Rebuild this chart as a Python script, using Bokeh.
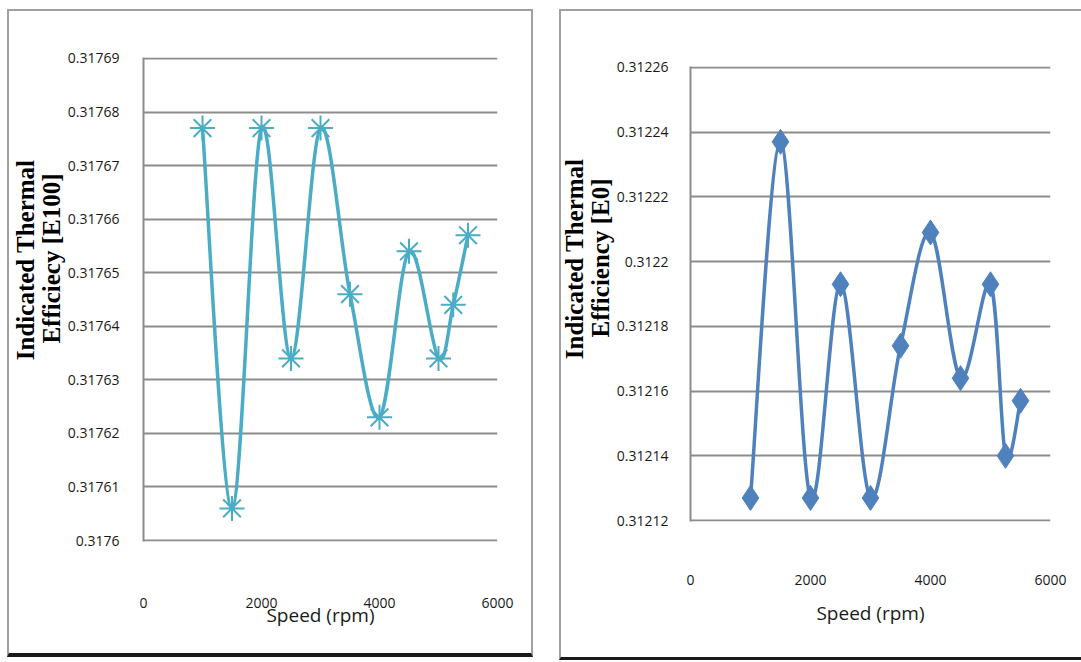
from bokeh.plotting import figure
from bokeh.layouts import row
from bokeh.models import (ColumnDataSource, FixedTicker, PrintfTickFormatter, Title, Range1d)
from bokeh.embed import file_html
from bokeh.resources import INLINE

# ---------------- data ----------------
speed_rpm = [1000, 1500, 2000, 2500, 3000, 3500, 4000, 4500, 5000, 5250, 5500]
eff_e100 = [0.317677, 0.317606, 0.317677, 0.317634, 0.317677, 0.317646,
            0.317623, 0.317654, 0.317634, 0.317644, 0.317657]
eff_e0 = [0.312127, 0.312237, 0.312127, 0.312193, 0.312127, 0.312174,
          0.312209, 0.312164, 0.312193, 0.312140, 0.312157]
x_ticks = [0, 2000, 4000, 6000]
y_ticks_e100 = [0.3176, 0.31761, 0.31762, 0.31763, 0.31764, 0.31765,
                0.31766, 0.31767, 0.31768, 0.31769]
y_ticks_e0 = [0.31212, 0.31214, 0.31216, 0.31218, 0.3122, 0.31222,
              0.31224, 0.31226]
x_title = "Speed (rpm)"
y_title_e100 = ["Indicated Thermal", "Efficiecy [E100]"]
y_title_e0 = ["Indicated Thermal", "Efficiency [E0]"]

GRID = "#8c8c8c"
TICK_FONT = "Open Sans"


def smooth_segments(xs, ys):
    """Bezier control points of a smoothed (Catmull-Rom style) line through the data."""
    n = len(xs)
    d = dict(x0=[], y0=[], x1=[], y1=[], cx0=[], cy0=[], cx1=[], cy1=[])
    for i in range(n - 1):
        ip = max(i - 1, 0)
        inx = min(i + 2, n - 1)
        d["x0"].append(xs[i]); d["y0"].append(ys[i])
        d["x1"].append(xs[i + 1]); d["y1"].append(ys[i + 1])
        d["cx0"].append(xs[i] + (xs[i + 1] - xs[ip]) / 6.0)
        d["cy0"].append(ys[i] + (ys[i + 1] - ys[ip]) / 6.0)
        d["cx1"].append(xs[i + 1] - (xs[inx] - xs[i]) / 6.0)
        d["cy1"].append(ys[i + 1] - (ys[inx] - ys[i]) / 6.0)
    return d


def make_panel(width, height, borders, ydata, yticks, title_lines, title_offsets,
               title_standoffs, color, marker, xstandoff, xtitle_standoff, margin, styles,
               ylabel_standoff):
    bl, br, bt, bb = borders
    pad = (yticks[-1] - yticks[0]) * 0.002
    p = figure(width=width, height=height, output_backend="svg", toolbar_location=None,
               x_range=Range1d(0, 6000),
               y_range=Range1d(yticks[0] - pad, yticks[-1] + pad),
               min_border_left=bl, min_border_right=br, min_border_top=bt,
               min_border_bottom=bb, frame_align=False, margin=margin, styles=styles)
    p.outline_line_color = None
    p.background_fill_color = "white"
    p.border_fill_color = "white"

    p.xgrid.visible = False
    p.ygrid.ticker = FixedTicker(ticks=yticks)
    p.ygrid.grid_line_color = GRID
    p.ygrid.grid_line_width = 2

    ya = p.yaxis[0]
    ya.ticker = FixedTicker(ticks=yticks)
    ya.formatter = PrintfTickFormatter(format="%.5g")
    ya.axis_line_color = GRID
    ya.axis_line_width = 2
    ya.major_tick_line_color = None
    ya.minor_tick_line_color = None
    ya.major_label_standoff = ylabel_standoff
    ya.major_label_text_font = TICK_FONT
    ya.major_label_text_font_size = "14px"
    ya.major_label_text_color = "#1a1a1a"

    xa = p.xaxis[0]
    xa.ticker = FixedTicker(ticks=x_ticks)
    xa.axis_line_color = None
    xa.major_tick_line_color = None
    xa.minor_tick_line_color = None
    xa.major_label_standoff = xstandoff
    xa.major_label_text_font = TICK_FONT
    xa.major_label_text_font_size = "14px"
    xa.major_label_text_color = "#1a1a1a"
    xa.axis_label = x_title
    xa.axis_label_standoff = xtitle_standoff
    xa.axis_label_text_font = TICK_FONT
    xa.axis_label_text_font_style = "normal"
    xa.axis_label_text_font_size = "19px"
    xa.axis_label_text_color = "#1a1a1a"

    src = ColumnDataSource(dict(x=speed_rpm, y=ydata))
    bz = ColumnDataSource(smooth_segments(speed_rpm, ydata))
    p.bezier(x0="x0", y0="y0", x1="x1", y1="y1", cx0="cx0", cy0="cy0", cx1="cx1",
             cy1="cy1", source=bz, line_color=color, line_width=3.5)
    if marker == "asterisk":
        p.scatter("x", "y", source=src, marker="asterisk", size=25,
                  line_color=color, line_width=2)
    else:
        p.scatter("x", "y", source=src, marker="diamond", size=25,
                  line_color=color, fill_color=color, line_width=1)

    # stacked outward from the axis: second line first, then first line
    for text, off, so in zip(reversed(title_lines), reversed(title_offsets), title_standoffs):
        p.add_layout(Title(text=text, align="right", offset=off, standoff=so,
                           text_font="Liberation Serif", text_font_style="bold",
                           text_font_size="25px", text_color="black"), "left")
    return p


left = make_panel(526, 648, (134, 38, 46, 118), eff_e100, y_ticks_e100, y_title_e100,
                  [102, 116], [0, -6], "#4bacc6", "asterisk", 50, -9, (9, 0, 0, 7),
                  {"border": "2px solid #a0a0a0", "border-bottom": "4px solid #1a1a1a"}, 18)

right = make_panel(522, 651, (128, 33, 55, 141), eff_e0, y_ticks_e0, y_title_e0,
                   [92, 112], [0, -6], "#4f81bd", "diamond", 47, 12, (9, 0, 0, 26),
                   {"border-left": "2px solid #a0a0a0", "border-top": "2px solid #a0a0a0",
                    "border-bottom": "3px solid #1a1a1a"}, 16)

layout = row(left, right)
open("out.html", "w").write(file_html(layout, INLINE))
